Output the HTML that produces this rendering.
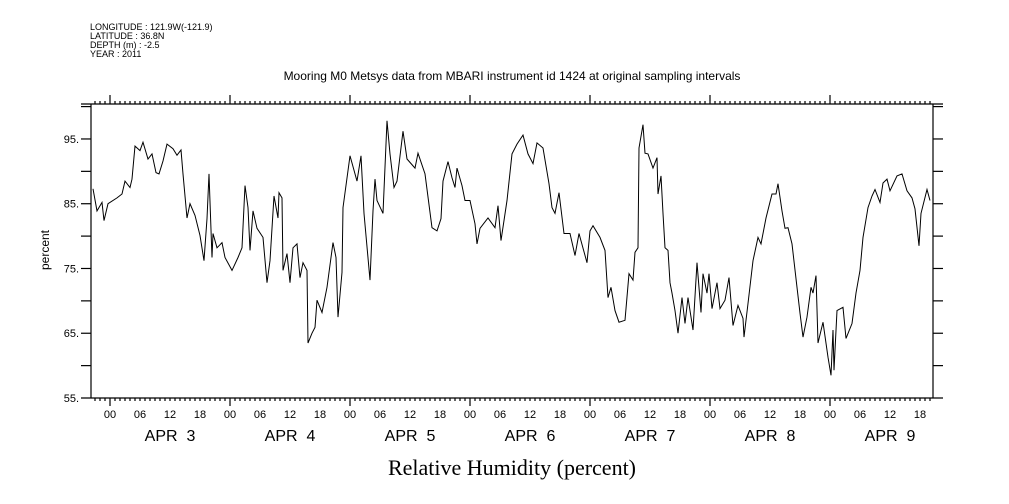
<!DOCTYPE html>
<html><head><meta charset="utf-8"><style>
html,body{margin:0;padding:0;background:#fff;}
svg{display:block;font-family:"Liberation Sans",sans-serif;}
</style></head><body>
<svg id="chart" width="1009" height="504" viewBox="0 0 1009 504" xmlns="http://www.w3.org/2000/svg">
<g font-size="9" fill="#000">
<text x="90" y="30">LONGITUDE : 121.9W(-121.9)</text>
<text x="90" y="39">LATITUDE : 36.8N</text>
<text x="90" y="48">DEPTH (m) : -2.5</text>
<text x="90" y="57">YEAR : 2011</text>
</g>
<text x="512" y="80" text-anchor="middle" font-size="12">Mooring M0 Metsys data from MBARI instrument id 1424 at original sampling intervals</text>
<text x="512" y="475" text-anchor="middle" font-size="22" font-family="Liberation Serif, serif">Relative Humidity (percent)</text>
<text x="0" y="0" transform="translate(49,250) rotate(-90)" text-anchor="middle" font-size="12">percent</text>
<g id="axes"></g>
<g id="ticks"></g>
<path id="line" fill="none" stroke="#000" stroke-width="1"/>
</svg>
<script>
// hours relative to APR 3 00:00 (2011)
const hours=[-3.4,-2.6,-1.6,-1.2,-0.4,1.4,2.4,3.0,4.0,4.4,5.0,6.0,6.6,7.6,8.4,9.2,9.8,10.6,11.4,12.6,13.4,14.2,14.6,15.4,16.0,17.0,18.0,18.8,19.4,19.8,20.4,20.6,21.4,22.4,23.0,24.4,25.6,26.4,27.0,27.6,28.0,28.6,29.4,30.6,31.4,32.0,32.8,33.6,33.8,34.4,34.6,35.4,36.0,36.6,37.4,38.0,38.6,39.4,39.6,40.4,41.0,41.4,42.4,43.4,44.6,45.2,45.6,46.4,46.6,48.0,49.4,50.2,50.8,52.0,52.6,53.0,53.4,54.6,55.4,56.0,56.8,57.4,58.6,59.4,61.0,61.6,63.0,64.4,65.4,66.2,66.6,67.6,68.4,69.0,69.4,70.4,71.0,72.0,73.0,73.4,74.0,75.6,77.0,77.6,78.2,79.4,80.4,81.4,82.6,83.6,84.6,85.4,86.6,87.8,88.4,89.0,89.8,90.8,92.0,93.0,93.8,95.4,96.0,96.6,98.0,99.0,99.6,100.2,101.0,101.8,103.0,103.8,104.6,105.0,105.6,105.8,106.6,107.0,107.6,108.6,109.4,109.6,110.2,110.6,111.0,111.6,112.0,112.4,113.0,113.6,114.4,115.0,115.6,116.6,117.4,118.2,118.6,119.4,119.8,120.4,121.4,122.0,123.0,123.8,124.6,125.6,126.6,126.8,127.6,128.6,129.6,130.2,131.2,132.4,133.2,133.6,134.4,135.0,135.6,136.4,137.4,138.0,138.6,139.4,140.2,140.6,141.2,141.6,142.6,143.6,144.2,144.6,144.8,145.4,146.6,147.2,148.4,149.2,150.0,150.6,151.6,152.4,153.0,154.0,154.6,155.4,156.0,157.4,158.4,159.4,160.4,161.0,161.8,162.2,163.4,164.0];
const humidity=[87.3,83.9,85.2,82.4,85.0,85.9,86.5,88.5,87.5,88.8,93.9,93.2,94.5,91.9,92.7,89.8,89.6,91.6,94.2,93.5,92.5,93.3,89.6,82.8,85.0,83.2,80.1,76.2,82.7,89.6,76.7,80.4,78.2,79.0,76.7,74.7,76.7,78.2,87.8,84.4,77.8,83.9,81.2,79.8,72.8,76.2,86.2,82.8,86.7,85.9,74.7,77.3,72.8,78.2,78.8,73.6,75.9,74.7,63.5,65.0,65.9,70.1,68.2,72.1,79.0,76.7,67.5,74.4,84.4,92.4,88.5,92.4,83.5,73.2,83.9,88.8,85.5,83.5,97.8,92.7,87.5,88.5,96.2,91.9,90.5,92.8,89.6,81.3,80.8,82.7,88.5,91.5,89.0,87.5,90.5,87.8,85.5,85.5,81.9,78.8,81.2,82.8,81.3,84.7,79.3,85.5,92.7,94.2,95.6,92.7,91.2,94.4,93.6,88.1,84.4,83.5,86.7,80.4,80.4,77.0,80.4,75.9,80.8,81.6,79.8,77.8,70.5,72.1,68.5,66.7,67.0,74.2,73.2,77.5,78.2,93.6,97.2,92.8,92.7,90.5,92.1,86.5,89.3,83.5,78.2,77.8,72.8,71.2,68.5,65.0,70.5,66.5,70.5,65.5,75.9,68.2,74.2,71.2,74.2,68.8,72.8,68.8,70.1,73.6,66.2,69.3,67.3,64.4,69.6,76.2,79.8,78.8,82.8,86.5,86.5,88.1,83.9,81.2,81.3,78.8,72.1,68.1,64.4,67.5,72.1,71.2,73.9,63.5,66.7,61.3,58.5,65.5,59.3,68.5,69.0,64.2,66.5,71.2,74.7,79.8,84.4,86.2,87.2,85.2,88.2,88.8,87.0,89.3,89.6,87.0,85.9,84.2,78.5,83.5,87.2,85.5];
const yTickValues=[95,85,75,65,55];
const yTickLabels=["95.","85.","75.","65.","55."];
const hourLabels=["00","06","12","18"];
const dayLabels=["APR  3","APR  4","APR  5","APR  6","APR  7","APR  8","APR  9"];
const xDomain=[-3.8,164.6], yDomain=[55,100.4];
const L=91,R=933,T=104,B=398;
function xs(h){return L+(h-xDomain[0])/(xDomain[1]-xDomain[0])*(R-L);}
function ys(v){return B-(v-yDomain[0])/(yDomain[1]-yDomain[0])*(B-T);}
const NS="http://www.w3.org/2000/svg";
const axes=document.getElementById('axes'), tk=document.getElementById('ticks');
function ln(g,x1,y1,x2,y2,name){const e=document.createElementNS(NS,'line');e.setAttribute('x1',x1);e.setAttribute('y1',y1);e.setAttribute('x2',x2);e.setAttribute('y2',y2);e.setAttribute('stroke','#000');e.setAttribute('stroke-width','1.2');


g.appendChild(e);return e;}
function tx(g,x,y,s,size,anchor,name){const e=document.createElementNS(NS,'text');e.setAttribute('x',x);e.setAttribute('y',y);e.setAttribute('font-size',size);e.setAttribute('text-anchor',anchor);e.textContent=s;


g.appendChild(e);return e;}
ln(axes,L-10,T,R+10,T,'top-axis');
ln(axes,L-10,B,R+10,B,'bottom-axis');
ln(axes,L,T,L,B,'left-axis');
ln(axes,R,T,R,B,'right-axis');
for(let v=60;v<=100;v+=5){const y=ys(v);ln(tk,L-10,y,L,y,'y-tick-left');ln(tk,R,y,R+10,y,'y-tick-right');}
yTickValues.forEach((v,i)=>{tx(tk,L-12,ys(v)+4,yTickLabels[i],11,'end','y-tick-label');});
for(let h=Math.ceil(xDomain[0]);h<=xDomain[1];h++){const x=xs(h);const day=((h%24)+24)%24===0;
ln(tk,x,T,x,T-(day?9:3),'x-tick-top');ln(tk,x,B,x,B+(day?8:3),'x-tick-bottom');
if(h%6===0){tx(tk,x,418,hourLabels[(((h%24)+24)%24)/6],11,'middle','hour-label');}}
dayLabels.forEach((d,i)=>{const e=tx(tk,xs(i*24+12),441,d,16,'middle','day-label');e.style.whiteSpace='pre';});
let dstr='';hours.forEach((h,i)=>{dstr+=(i?'L':'M')+xs(h).toFixed(1)+' '+ys(humidity[i]).toFixed(1);});
document.getElementById('line').setAttribute('d',dstr);
</script>
</body></html>
